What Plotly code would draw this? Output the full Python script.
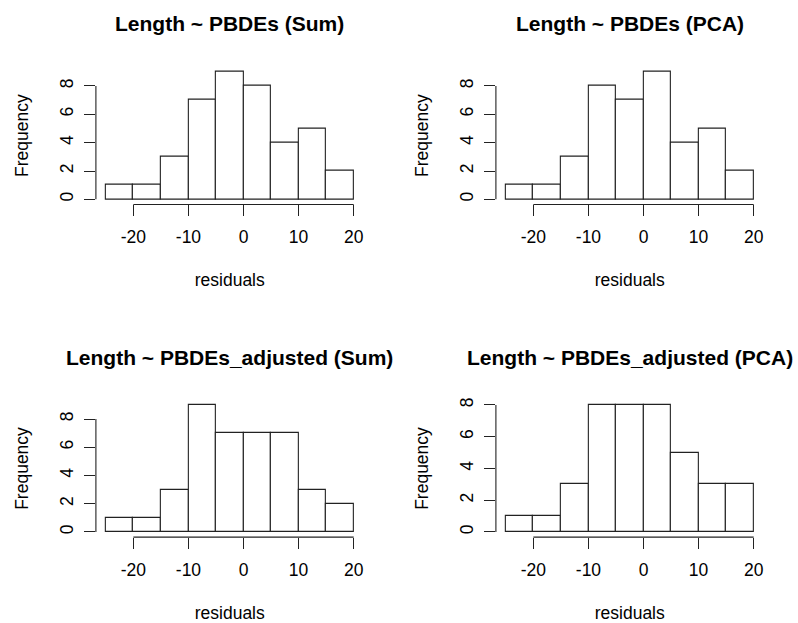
import plotly.graph_objects as go

bin_edges = [-25, -20, -15, -10, -5, 0, 5, 10, 15, 20]
titles = ["Length ~ PBDEs (Sum)", "Length ~ PBDEs (PCA)",
          "Length ~ PBDEs_adjusted (Sum)", "Length ~ PBDEs_adjusted (PCA)"]
counts_sum = [1, 1, 3, 7, 9, 8, 4, 5, 2]
counts_pca = [1, 1, 3, 8, 7, 9, 4, 5, 2]
counts_adj_sum = [1, 1, 3, 9, 7, 7, 7, 3, 2]
counts_adj_pca = [1, 1, 3, 8, 8, 8, 5, 3, 3]
x_ticks = [-20, -10, 0, 10, 20]
x_tick_text = ["-20", "-10", "0", "10", "20"]
y_ticks = [0, 2, 4, 6, 8]
x_label = "residuals"
y_label = "Frequency"

all_counts = [counts_sum, counts_pca, counts_adj_sum, counts_adj_pca]

W, H = 798, 623
FONT = "Liberation Sans, Arial, Helvetica, sans-serif"
# plot regions in pixels (left, right, top, bottom)
regions = [(95.9, 363.6, 64.9, 203.1), (495.9, 763.6, 64.9, 203.1),
           (95.9, 363.6, 399.2, 536.8), (495.9, 763.6, 399.2, 536.8)]
title_y = [21.5, 21.5, 356.5, 356.5]

fig = go.Figure()
centers = [(bin_edges[i] + bin_edges[i + 1]) / 2 for i in range(len(bin_edges) - 1)]
widths = [bin_edges[i + 1] - bin_edges[i] for i in range(len(bin_edges) - 1)]
xr = [bin_edges[0] - 0.04 * (bin_edges[-1] - bin_edges[0]),
      bin_edges[-1] + 0.04 * (bin_edges[-1] - bin_edges[0])]

layout = dict(width=W, height=H, margin=dict(l=0, r=0, t=0, b=0),
              paper_bgcolor="white", plot_bgcolor="white", showlegend=False,
              bargap=0, font=dict(family=FONT, color="black"))
shapes = []
annotations = []
for i, counts in enumerate(all_counts):
    n = i + 1
    xa = "x" if n == 1 else f"x{n}"
    ya = "y" if n == 1 else f"y{n}"
    fig.add_trace(go.Bar(x=centers, y=counts, width=widths, xaxis=xa, yaxis=ya,
                         marker=dict(color="white", line=dict(color="#222222", width=1.1)),
                         hoverinfo="x+y"))
    l, r, t, b = regions[i]
    ymax = max(counts)
    axis_common = dict(showgrid=False, zeroline=False, showline=False,
                       ticks="outside", ticklen=11, tickwidth=1.1, tickcolor="#222222",
                       tickfont=dict(size=17.5, family=FONT, color="black"),
                       fixedrange=True)
    layout["xaxis" + ("" if n == 1 else str(n))] = dict(
        domain=[l / W, r / W], range=xr, anchor=ya, tickvals=x_ticks,
        ticktext=x_tick_text, ticklabelstandoff=6,
        title=dict(text=x_label, font=dict(size=17.5, family=FONT), standoff=27),
        **axis_common)
    layout["yaxis" + ("" if n == 1 else str(n))] = dict(
        domain=[1 - b / H, 1 - t / H], range=[-0.04 * ymax, ymax * 1.04], anchor=xa,
        tickvals=y_ticks, tickangle=-90, ticklabelstandoff=4,
        title=dict(text=y_label, font=dict(size=17.5, family=FONT), standoff=23),
        **axis_common)
    shapes.append(dict(type="line", xref=xa, yref=ya + " domain",
                       x0=x_ticks[0], x1=x_ticks[-1], y0=0, y1=0,
                       line=dict(color="#222222", width=1.1)))
    shapes.append(dict(type="line", xref=xa + " domain", yref=ya,
                       x0=0, x1=0, y0=y_ticks[0], y1=y_ticks[-1],
                       line=dict(color="#222222", width=1.1)))
    annotations.append(dict(text="<b>" + titles[i] + "</b>", xref="paper", yref="paper",
                            x=(l + r) / 2 / W, y=1 - title_y[i] / H,
                            xanchor="center", yanchor="middle", showarrow=False,
                            font=dict(size=21, family=FONT, color="black")))

layout["shapes"] = shapes
layout["annotations"] = annotations
fig.update_layout(**layout)
fig.write_html("out.html", config={"displayModeBar": False},
               post_script="document.body.style.margin='0';document.body.style.overflow='hidden';")
